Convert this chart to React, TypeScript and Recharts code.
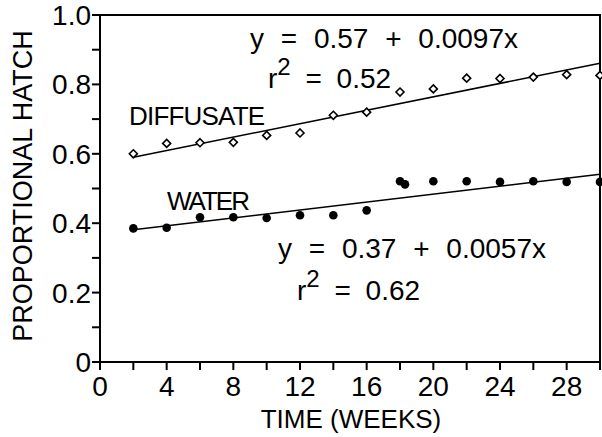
import { ComposedChart, Line, ReferenceArea, Scatter, XAxis, YAxis } from 'recharts';

const diffWeeks = [2, 4, 6, 8, 10, 12, 14, 16, 18, 20, 22, 24, 26, 28, 30];
const diffusate = [0.6, 0.63, 0.632, 0.633, 0.653, 0.66, 0.711, 0.72, 0.778, 0.787, 0.818, 0.817, 0.821, 0.828, 0.826];

const waterWeeks = [2, 4, 6, 8, 10, 12, 14, 16, 18, 18.3, 20, 22, 24, 26, 28, 30];
const water = [0.385, 0.387, 0.417, 0.417, 0.415, 0.423, 0.423, 0.437, 0.521, 0.512, 0.521, 0.521, 0.519, 0.521, 0.519, 0.519];

// fitted lines, end points
const fitWeeks = [2, 30];
const diffFit = [0.59, 0.861];
const waterFit = [0.381, 0.541];

const xTicks = [0, 2, 4, 6, 8, 10, 12, 14, 16, 18, 20, 22, 24, 26, 28, 30];
const yTicks = [0, 0.1, 0.2, 0.3, 0.4, 0.5, 0.6, 0.7, 0.8, 0.9, 1];

const zip = (xs: number[], ys: number[]) => xs.map((x, i) => ({ x, y: ys[i] }));

const font = '"Liberation Sans", Arial, sans-serif';

const OpenDiamond = (p: any) => (
  <path
    d={`M${p.cx},${p.cy - 4} L${p.cx + 4},${p.cy} L${p.cx},${p.cy + 4} L${p.cx - 4},${p.cy} Z`}
    fill="#fff"
    stroke="#000"
    strokeWidth={1.6}
  />
);

const Dot = (p: any) => <circle cx={p.cx} cy={p.cy} r={4.3} fill="#000" />;

const fmtY = (v: number) => {
  const r = Math.round(v * 10);
  if (r % 2 !== 0) return '';
  if (r === 0) return '0';
  return (r / 10).toFixed(1);
};

const fmtX = (v: number) => (v % 4 === 0 && v < 30 ? String(v) : '');

export default function App() {
  return (
    <div style={{ position: 'fixed', left: 0, top: 0, width: 602, height: 437, background: '#fff', overflow: 'hidden' }}>
      <ComposedChart width={602} height={437} margin={{ top: 15, right: 2, bottom: 0, left: 0 }}>
        <XAxis
          type="number"
          dataKey="x"
          domain={[0, 30]}
          ticks={xTicks}
          tickFormatter={fmtX}
          interval={0}
          height={75}
          tickSize={8}
          tickMargin={6}
          stroke="#000"
          strokeWidth={2}
          tick={{ fill: '#000', fontSize: 28, fontFamily: font }}
        />
        <YAxis
          type="number"
          dataKey="y"
          domain={[0, 1]}
          ticks={yTicks}
          tickFormatter={fmtY}
          interval={0}
          width={100}
          tickSize={8}
          tickMargin={1}
          stroke="#000"
          strokeWidth={2}
          tick={{ fill: '#000', fontSize: 28, fontFamily: font }}
        />
        <ReferenceArea x1={0} x2={30} y1={0} y2={1} fill="none" stroke="#000" strokeWidth={2} fillOpacity={0} />
        <Line data={zip(fitWeeks, diffFit)} dataKey="y" type="linear" dot={false} stroke="#000" strokeWidth={1.6} isAnimationActive={false} />
        <Line data={zip(fitWeeks, waterFit)} dataKey="y" type="linear" dot={false} stroke="#000" strokeWidth={1.6} isAnimationActive={false} />
        <Scatter data={zip(diffWeeks, diffusate)} dataKey="y" shape={OpenDiamond} isAnimationActive={false} />
        <Scatter data={zip(waterWeeks, water)} dataKey="y" shape={Dot} isAnimationActive={false} />
      </ComposedChart>
      <svg width={602} height={437} style={{ position: 'absolute', left: 0, top: 0, pointerEvents: 'none' }}>
        <g fontFamily={font} fill="#000">
          <text x={250} y={48} fontSize={28} wordSpacing={9}>y = 0.57 + 0.0097x</text>
          <text x={268} y={88} fontSize={28} wordSpacing={7}>
            r<tspan dy={-13} fontSize={24}>2</tspan>
            <tspan dy={13}> = 0.52</tspan>
          </text>
          <text x={129} y={125} fontSize={26} letterSpacing={-0.8}>DIFFUSATE</text>
          <text x={167} y={210} fontSize={26} letterSpacing={-2}>WATER</text>
          <text x={278} y={258} fontSize={28} wordSpacing={9}>y = 0.37 + 0.0057x</text>
          <text x={297} y={300} fontSize={28} wordSpacing={7}>
            r<tspan dy={-13} fontSize={24}>2</tspan>
            <tspan dy={13}> = 0.62</tspan>
          </text>
          <text x={351} y={428} fontSize={26} textAnchor="middle">TIME (WEEKS)</text>
          <text x={32} y={186} fontSize={27} textAnchor="middle" transform="rotate(-90 32 186)">PROPORTIONAL HATCH</text>
        </g>
      </svg>
    </div>
  );
}
